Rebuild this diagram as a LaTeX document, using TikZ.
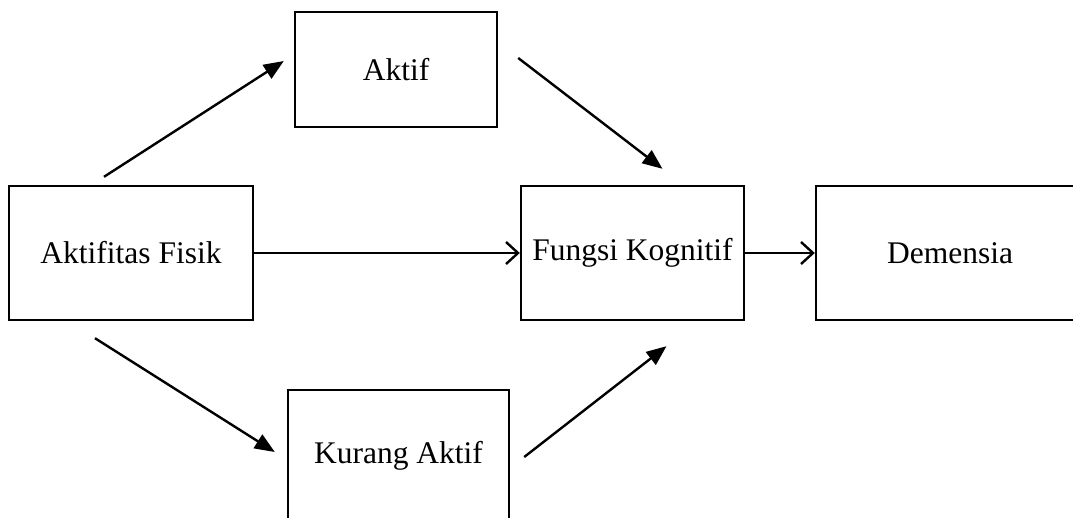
\documentclass[tikz,border=0pt]{standalone}
\usepackage{fontspec}
\setmainfont{Liberation Serif}
\usetikzlibrary{arrows.meta,calc}
\begin{document}
\begin{tikzpicture}[x=1pt,y=-1pt,
  box/.style={draw=black,line width=2.4pt,inner sep=0pt,font=\fontsize{31.5}{38}\selectfont},
  fillarrow/.style={line width=2.4pt,-{Triangle[length=20pt,width=16pt]}},
  openarrow/.style={line width=2.4pt,-{Straight Barb[length=12pt,width=22pt,line width=2.4pt]}}]
\useasboundingbox (0,0) rectangle (1073,517);
\node[box,minimum width=244pt,minimum height=134pt] (AF) at (131,253) {Aktifitas Fisik};
\node[box,minimum width=202pt,minimum height=115pt] (AK) at (396,69.5) {Aktif};
\node[box,minimum width=221pt,minimum height=131pt] (KA) at (398.5,455.5) {Kurang Aktif};
\node[box,minimum width=223pt,minimum height=134pt] (FK) at (632.5,253) {Fungsi Kognitif};
\node[box,minimum width=268pt,minimum height=134pt] (DE) at (950,253) {Demensia};
\draw[fillarrow] ($(AF.north)+(-27,-8)$) -- ($(AK.west)+(-10,-8.5)$);
\draw[fillarrow] ($(AK.east)+(20,-11.5)$) -- ($(FK.north)+(30,-16)$);
\draw[fillarrow] ($(AF.south)+(-36,17)$) -- ($(KA.west)+(-12,-3.5)$);
\draw[fillarrow] ($(KA.east)+(14,1.5)$) -- ($(FK.south)+(34,25)$);
\draw[openarrow] (AF.east) -- (FK.west);
\draw[openarrow] (FK.east) -- (DE.west);
\end{tikzpicture}
\end{document}
